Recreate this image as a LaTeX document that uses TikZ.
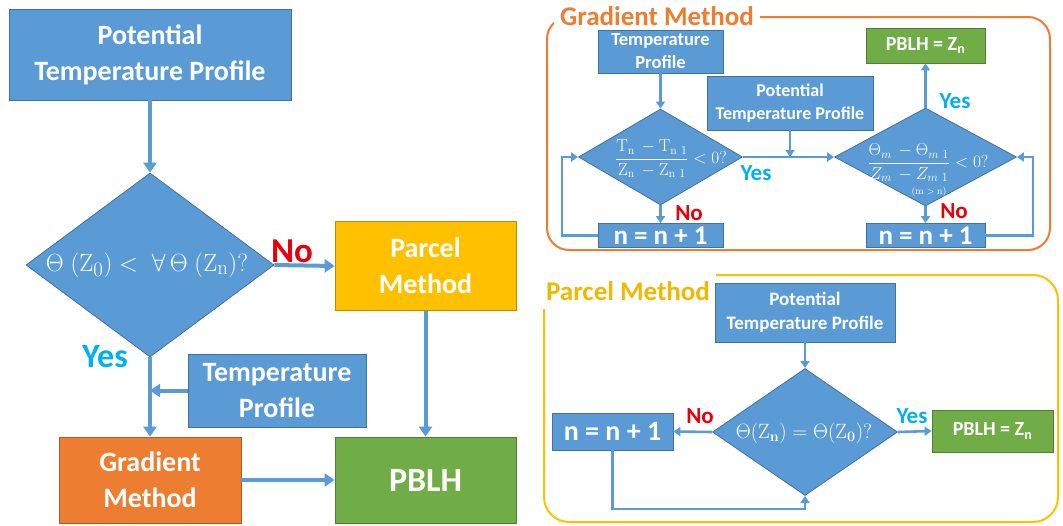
\documentclass[tikz,border=0pt]{standalone}
\usepackage[no-math]{fontspec}
\setmainfont{Carlito}
\usetikzlibrary{shapes.geometric,arrows.meta}

\definecolor{boxblue}{HTML}{5B9BD5}
\definecolor{boxblueline}{HTML}{41719C}
\definecolor{boxorange}{HTML}{ED7D31}
\definecolor{boxorangeline}{HTML}{AE5A21}
\definecolor{boxyellow}{HTML}{FFC000}
\definecolor{boxyellowline}{HTML}{BC8C00}
\definecolor{boxgreen}{HTML}{70AD47}
\definecolor{boxgreenline}{HTML}{507E32}
\definecolor{yescol}{HTML}{00B0F0}
\definecolor{nocol}{HTML}{E8000B}
\definecolor{linkcol}{HTML}{5B9BD5}
\definecolor{gradframe}{HTML}{ED7D31}
\definecolor{parcframe}{HTML}{FFC000}
\definecolor{parctitle}{HTML}{F2B800}

\begin{document}
\begin{tikzpicture}[x=1pt,y=-1pt,
  fs/.style 2 args={font=\bfseries\fontsize{#1}{#2}\selectfont},
  card/.style 2 args={rectangle, fill=#1, draw=#2, line width=0.8pt,
    text=white, align=center, inner sep=0pt},
  bluecard/.style={card={boxblue}{boxblueline}},
  orangecard/.style={card={boxorange}{boxorangeline}},
  yellowcard/.style={card={boxyellow}{boxyellowline}},
  greencard/.style={card={boxgreen}{boxgreenline}},
  decision/.style={diamond, fill=boxblue, draw=boxblueline, line width=0.8pt,
    inner sep=0pt},
  mathlabel/.style={text=white, inner sep=0pt},
  yeslbl/.style={text=yescol, inner sep=0pt, fs={#1}{#1}},
  nolbl/.style={text=nocol, inner sep=0pt, fs={#1}{#1}},
  bigarrow/.style={draw=linkcol, line width=4pt, -{Triangle[length=10pt,width=13pt]}},
  smallarrow/.style={draw=linkcol, line width=2.6pt, -{Triangle[length=7pt,width=9pt]}},
  frametitle/.style={fill=white, inner xsep=6pt, inner ysep=8pt, fs={27}{27}}
]
\useasboundingbox (0,0) rectangle (1063,525);

% ---------------- overview flow ----------------
\node[bluecard, fs={28}{36}, minimum width=282pt, minimum height=91pt]
  (ptp) at (150,54.5) {Potential\\Temperature Profile};
\node[decision, minimum width=248pt, minimum height=184pt] (dmain) at (150,265) {};
\node[mathlabel, font=\fontsize{30}{30}\selectfont] (dmaintext) at (147,265)
  {$\Theta\ (\mathrm{Z}_0) < \ \forall\,\Theta\ (\mathrm{Z}_{\mathrm{n}})?$};
\node[yellowcard, fs={28}{36}, minimum width=181pt, minimum height=89pt]
  (parcel) at (425.5,266) {Parcel\\Method};
\node[greencard, fs={34}{34}, minimum width=181pt, minimum height=86pt]
  (pblh) at (425.5,480) {PBLH};
\node[orangecard, fs={28}{36}, minimum width=182pt, minimum height=86pt]
  (grad) at (150,480) {Gradient\\Method};
\node[bluecard, fs={28}{36}, minimum width=178pt, minimum height=73pt]
  (tprof) at (277,390.5) {Temperature\\Profile};
\node[nolbl=35] (mainno) at (292,251) {No};
\node[yeslbl=34] (mainyes) at (105,357) {Yes};

\draw[bigarrow] (ptp.south) -- (dmain.north);
\draw[bigarrow] (dmain.east) -- (parcel.west);
\draw[bigarrow] (dmain.south) -- (grad.north);
\draw[bigarrow] (tprof.west) -- (tprof.west -| dmain.south);
\draw[bigarrow] (parcel.south) -- (pblh.north);
\draw[bigarrow] (grad.east) -- (pblh.west);

% ---------------- gradient method panel ----------------
\draw[gradframe, line width=2pt, rounded corners=22pt] (547,17) rectangle (1050,250);
\node[frametitle, text=gradframe] (gtitle) at (657,16) {Gradient Method};

\node[bluecard, fs={18.5}{23}, minimum width=125pt, minimum height=43pt]
  (gtp) at (660.5,51.5) {Temperature\\Profile};
\node[bluecard, fs={18}{23}, minimum width=166pt, minimum height=54pt]
  (gptp) at (790,103) {Potential\\Temperature Profile};
\node[decision, minimum width=164pt, minimum height=96pt] (gd1) at (660.5,157) {};
\node[mathlabel, font=\fontsize{18}{18}\selectfont] (gd1text) at (671,159)
  {$\displaystyle\frac{\mathrm{T_n}\,-\mathrm{T_{n\ 1}}}{\mathrm{Z_n}\,-\mathrm{Z_{n\ 1}}} < 0?$};
\node[bluecard, fs={27}{27}, minimum width=125pt, minimum height=24pt]
  (gn1) at (660.5,235.5) {n = n + 1};
\node[decision, minimum width=182pt, minimum height=98pt] (gd2) at (925.5,157) {};
\node[mathlabel, font=\fontsize{18}{18}\selectfont] (gd2text) at (928,163)
  {$\displaystyle\frac{\Theta_m\,-\Theta_{m\ 1}}{Z_m\,-Z_{m\ 1}} < 0?$};
\node[mathlabel, font=\fontsize{10}{10}\selectfont] (gd2cond) at (929,192) {$(\mathrm{m}>\mathrm{n})$};
\node[greencard, fs={20}{20}, minimum width=119pt, minimum height=35pt]
  (gpblh) at (925.5,45.5) {PBLH = Z\textsubscript{n}};
\node[bluecard, fs={27}{27}, minimum width=119pt, minimum height=24pt]
  (gn2) at (925.5,235.5) {n = n + 1};

\node[yeslbl=23] (gyes1) at (756,173) {Yes};
\node[nolbl=23] (gno1) at (689,213) {No};
\node[yeslbl=23] (gyes2) at (955,101) {Yes};
\node[nolbl=23] (gno2) at (954,211) {No};

\draw[smallarrow] (gtp.south) -- (gd1.north);
\draw[smallarrow] (gd1.east) -- (gd2.west);
\draw[smallarrow] (gptp.south) -- (gptp.south |- gd1.east);
\draw[smallarrow] (gd1.south) -- (gn1.north);
\draw[smallarrow] (gn1.west) -| ([xshift=-16pt]gd1.west) -- (gd1.west);
\draw[smallarrow] (gd2.north) -- (gpblh.south);
\draw[smallarrow] (gd2.south) -- (gn2.north);
\draw[smallarrow] (gn2.east) -| ([xshift=16pt]gd2.east) -- (gd2.east);

% ---------------- parcel method panel ----------------
\draw[parcframe, line width=2pt, rounded corners=25pt] (544,275) rectangle (1058,522);
\node[frametitle, text=parctitle] (ptitle) at (628,291) {Parcel Method};

\node[bluecard, fs={19}{24}, minimum width=180pt, minimum height=59pt]
  (pptp) at (805,312.5) {Potential\\Temperature Profile};
\node[decision, minimum width=185pt, minimum height=127pt] (pd) at (805,432) {};
\node[mathlabel, font=\fontsize{22}{22}\selectfont] (pdtext) at (804,433)
  {$\Theta(\mathrm{Z}_{\mathbf{n}}) = \Theta(\mathrm{Z}_{\mathbf{0}})?$};
\node[bluecard, fs={28}{28}, minimum width=121pt, minimum height=37pt]
  (pn) at (612.5,431.5) {n = n + 1};
\node[greencard, fs={20}{20}, minimum width=121pt, minimum height=42pt]
  (ppblh) at (992.5,431) {PBLH = Z\textsubscript{n}};
\node[nolbl=23] (pno) at (700,416) {No};
\node[yeslbl=23] (pyes) at (912,416) {Yes};

\draw[smallarrow] (pptp.south) -- (pd.north);
\draw[smallarrow] (pd.west) -- (pn.east);
\draw[smallarrow] (pd.east) -- (ppblh.west);
\draw[smallarrow] (pn.south) |- ([yshift=-13pt]pd.south) -- (pd.south);
\end{tikzpicture}
\end{document}
